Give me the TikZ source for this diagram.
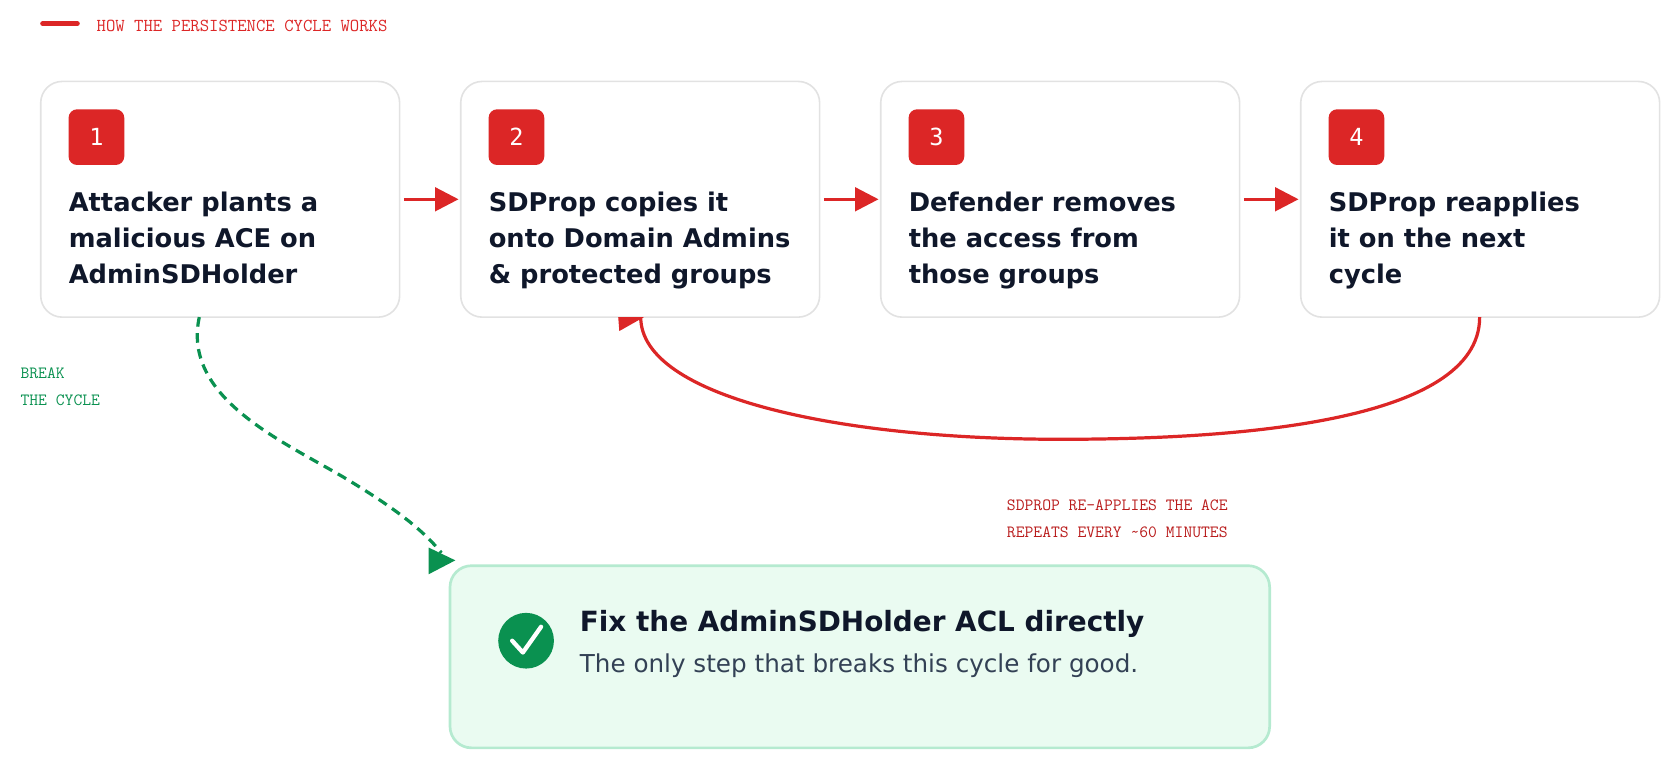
\documentclass[tikz,border=0pt]{standalone}
\usepackage{fontspec}
\setmainfont{DejaVu Sans}
\newcommand\monoA{\ttfamily\addfontfeatures{LetterSpace=36}}
\newcommand\monoB{\ttfamily\addfontfeatures{LetterSpace=24}}
\newfontfamily\monoN{DejaVu Sans Mono}
\usetikzlibrary{arrows.meta}
\definecolor{cred}{HTML}{DC2626}
\definecolor{dred}{HTML}{B91C1C}
\definecolor{navy}{HTML}{0F172A}
\definecolor{slate}{HTML}{334155}
\definecolor{cgreen}{HTML}{0A9150}
\definecolor{gfill}{HTML}{EAFBF1}
\definecolor{gline}{HTML}{B5EAD0}
\definecolor{cardline}{HTML}{E2E2E2}
\begin{document}
\begin{tikzpicture}[x=1pt,y=-1pt,
  card/.style={draw=cardline,line width=1.5pt,rounded corners=20pt,fill=white},
  badge/.style={fill=cred,rounded corners=8pt,minimum size=52pt,inner sep=0pt,text=white,font=\monoN\fontsize{22}{22}\selectfont},
  body/.style={anchor=north west,align=left,text=navy,font=\bfseries\fontsize{24}{33.5}\selectfont,inner sep=0pt},
  flow/.style={draw=cred,line width=3pt,-{Triangle[length=22pt,width=22pt]}},
  mono/.style={anchor=north west,align=left,inner sep=0pt,font=\monoB\fontsize{16}{25}\selectfont},
]
\useasboundingbox (0,0) rectangle (1568,719);
% title
\draw[cred,line width=5pt,line cap=round] (40,22) -- (72,22);
\node[anchor=west,text=cred,font=\monoA\fontsize{17}{17}\selectfont,inner sep=0pt] (ttl) at (90,24) {HOW THE PERSISTENCE CYCLE WORKS};
% cards
\foreach \i/\x in {1/38,2/430,3/822,4/1214}{
  \draw[card] (\x,76) rectangle ++(335,220);
  \node[badge] (b\i) at (\x+52,128) {\i};
}
\node[body] (t1) at (64,179) {Attacker plants a\\malicious ACE on\\AdminSDHolder};
\node[body] (t2) at (456,179) {SDProp copies it\\onto Domain Admins\\\& protected groups};
\node[body] (t3) at (848,179) {Defender removes\\the access from\\those groups};
\node[body] (t4) at (1240,179) {SDProp reapplies\\it on the next\\cycle};
\coordinate (a1) at (377,186); \coordinate (a1e) at (428,186);
\coordinate (a2) at (769,186); \coordinate (a2e) at (820,186);
\coordinate (a3) at (1161,186); \coordinate (a3e) at (1212,186);
\draw[flow] (a1) -- (a1e);
\draw[flow] (a2) -- (a2e);
\draw[flow] (a3) -- (a3e);
% loop
\coordinate (l1) at (1381,296);
\coordinate (l2) at (598,296);
\draw[cred,line width=3pt] (l1) .. controls (1381,395) and (1150,410) .. (990,410)
  .. controls (780,410) and (598,370) .. (l2);
\fill[cred] (577,296) -- (601,296) -- (578,309) -- cycle;
% break
\node[mono,text=cgreen] (brk) at (19,343) {BREAK\\THE CYCLE};
\coordinate (g1) at (186,296);
\coordinate (g2) at (412,516);
\draw[cgreen,line width=3pt,dash pattern=on 9pt off 6pt] (g1) .. controls (170,370) and (260,410) .. (320,445) .. controls (370,475) and (395,495) .. (g2);
\fill[cgreen] (400,511) -- (425,523) -- (400,536) -- cycle;
\node[mono,text=dred,align=right,anchor=north east] (rep) at (1146,466) {SDPROP RE-APPLIES THE ACE\\REPEATS EVERY \textasciitilde60 MINUTES};
% fix box
\draw[draw=gline,fill=gfill,line width=2.5pt,rounded corners=20pt] (420,528) rectangle (1185,698);
\node[circle,fill=cgreen,minimum size=52pt,inner sep=0pt] (chk) at (491,598) {};
\draw[white,line width=4pt,line cap=round,line join=round] (478,598) -- (488,609) -- (505,585);
\node[anchor=west,inner sep=0pt,text=navy,font=\bfseries\fontsize{26}{26}\selectfont] (fx) at (541,582) {Fix the AdminSDHolder ACL directly};
\node[anchor=west,inner sep=0pt,text=slate,font=\fontsize{23}{23}\selectfont] (fs) at (541,621) {The only step that breaks this cycle for good.};
\end{tikzpicture}
\end{document}
